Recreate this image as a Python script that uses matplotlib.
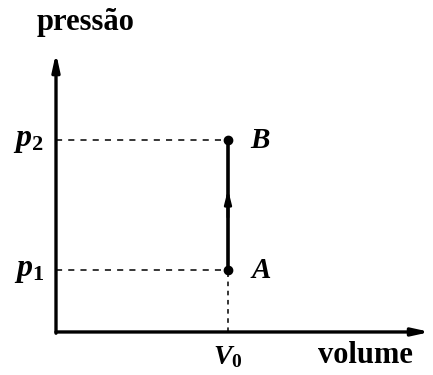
import matplotlib.pyplot as plt

plt.rcParams['mathtext.fontset'] = 'custom'
plt.rcParams['mathtext.it'] = 'Liberation Serif:italic:bold'
plt.rcParams['mathtext.rm'] = 'Liberation Serif:bold'

# state values (schematic units)
V0 = 1.0
p1 = 1.0
p2 = 3.1
point_names = ['A', 'B']
point_p = [p1, p2]
tick_labels_p = [r'$p_1$', r'$p_2$']
tick_label_v = r'$V_0$'
xlabel = 'volume'
ylabel = 'pressão'

fig = plt.figure(figsize=(4.33, 3.75), dpi=100)
ax = fig.add_axes([0, 0, 1, 1])
ax.set_xlim(-0.3256, 2.192)
ax.set_ylim(-0.694, 5.355)
ax.axis('off')

# axes with arrows
arr = dict(arrowstyle='-|>,head_length=1.0,head_width=0.22', color='black',
           lw=2.4, shrinkA=0, shrinkB=0)
ax.annotate('', xy=(2.175, 0), xytext=(0, 0), arrowprops=arr)
ax.annotate('', xy=(0, 4.5), xytext=(0, -0.02), arrowprops=arr)

# dashed guides
for p in point_p:
    ax.plot([0, V0], [p, p], color='black', lw=1.1, ls=(0, (4, 4)))
ax.plot([V0, V0], [0, p1], color='black', lw=1.1, ls=(0, (3, 3)))

# process A -> B
ax.plot([V0, V0], [p1, p2], color='black', lw=2.6)
ax.annotate('', xy=(V0, (p1 + p2) / 2 + 0.25), xytext=(V0, (p1 + p2) / 2 - 0.2),
            arrowprops=dict(arrowstyle='-|>,head_length=0.8,head_width=0.2',
                            color='black', lw=2.0, shrinkA=0, shrinkB=0))
ax.plot([V0] * 2, point_p, 'o', color='black', ms=6)

for name, p in zip(point_names, point_p):
    ax.text(V0 + 0.13, p, '$' + name + '$', fontsize=21, va='center', ha='left')
for lab, p in zip(tick_labels_p, point_p):
    ax.text(-0.07, p, lab, fontsize=23, va='center', ha='right')
ax.text(V0, -0.17, tick_label_v, fontsize=20, va='top', ha='center')

ax.text(1.8, -0.38, xlabel, fontsize=22, fontweight='bold',
        family='Liberation Serif', va='center', ha='center')
ax.text(0.17, 5.0, ylabel, fontsize=22, fontweight='bold',
        family='Liberation Serif', va='center', ha='center')

fig.savefig('out.png', dpi=100)
